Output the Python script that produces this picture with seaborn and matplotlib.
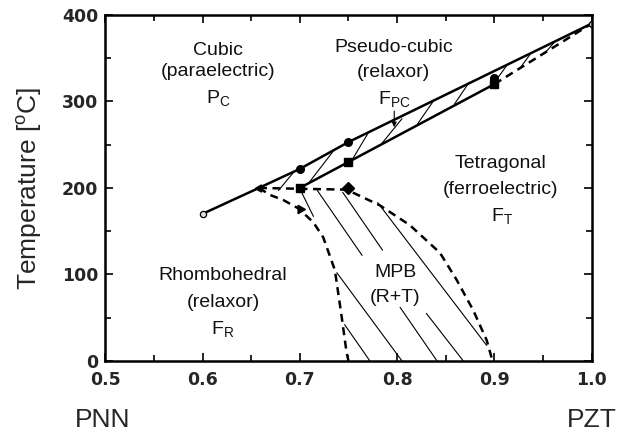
import matplotlib
matplotlib.use("Agg")
import matplotlib.pyplot as plt
import numpy as np
import pandas as pd
import seaborn as sns

# boundary lines (x = PZT fraction, y = temperature in C)
upper_x = [0.6, 0.658, 0.7, 0.75, 1.0]
upper_y = [170, 200, 222, 253, 390]
lower_x = [0.7, 0.75, 0.9]
lower_y = [200, 230, 320]
tail_x = [0.9, 1.0]
tail_y = [320, 390]
mpb_top_x = [0.658, 0.70, 0.748, 0.782, 0.813, 0.844, 0.861, 0.878, 0.892, 0.898]
mpb_top_y = [200, 199, 198, 180, 157, 125, 94, 59, 24, 0]
mpb_left_x = [0.658, 0.669, 0.683, 0.699, 0.714, 0.724, 0.736, 0.743, 0.748, 0.750]
mpb_left_y = [200, 192, 186, 176, 160, 143, 105, 51, 10, 0]

# measured points
circle_x = [0.7, 0.75, 0.9]
circle_y = [222, 253, 327]
square_x = [0.7, 0.75, 0.9]
square_y = [200, 230, 320]
open_x = [0.6, 1.0]
open_y = [170, 390]
diamond_x = [0.75]
diamond_y = [200]

# hatch segments: (x0, y0, x1, y1)
pc_hatch = [(0.678, 197, 0.695, 220), (0.710, 207, 0.734, 242), (0.754, 233, 0.770, 263),
            (0.784, 251, 0.805, 280), (0.821, 274, 0.837, 300), (0.859, 297, 0.874, 322),
            (0.900, 322, 0.913, 342), (0.926, 338, 0.937, 355), (0.952, 356, 0.962, 369)]
mpb_hatch = [(0.700, 199, 0.714, 167), (0.718, 197, 0.764, 122), (0.744, 195, 0.785, 128),
             (0.780, 183, 0.892, 18), (0.738, 102, 0.805, 0), (0.746, 42, 0.772, 0),
             (0.803, 62, 0.841, 0), (0.830, 55, 0.868, 0)]

xticks = [0.5, 0.6, 0.7, 0.8, 0.9, 1.0]
yticks = [0, 100, 200, 300, 400]

sns.set_theme(style="ticks")
plt.rcParams['font.family'] = ['Liberation Sans', 'DejaVu Sans']
plt.rcParams['mathtext.fontset'] = 'custom'
plt.rcParams['mathtext.rm'] = 'Liberation Sans'

fig = plt.figure(figsize=(6.19, 4.37), dpi=100)
ax = fig.add_axes([0.170, 0.174, 0.786, 0.792])

# hatching as one long-form table
rows = []
for i, (x0, y0, x1, y1) in enumerate(pc_hatch + mpb_hatch):
    rows.append({'seg': i, 'x': x0, 'y': y0})
    rows.append({'seg': i, 'x': x1, 'y': y1})
hatch = pd.DataFrame(rows)
sns.lineplot(data=hatch, x='x', y='y', units='seg', estimator=None, sort=False,
             color='black', lw=0.8, ax=ax)

solid = dict(color='black', lw=1.8, sort=False, estimator=None, ax=ax)
sns.lineplot(x=upper_x, y=upper_y, **solid)
sns.lineplot(x=lower_x, y=lower_y, **solid)

dashed = dict(color='black', lw=1.8, sort=False, estimator=None, ax=ax, linestyle=(0, (3.2, 2.2)))
sns.lineplot(x=tail_x, y=tail_y, **dashed)
sns.lineplot(x=mpb_top_x, y=mpb_top_y, **dashed)
sns.lineplot(x=mpb_left_x, y=mpb_left_y, **dashed)

ax.plot(circle_x, circle_y, 'o', color='black', ms=5.5)
ax.plot(square_x, square_y, 's', color='black', ms=5.5)
ax.plot(diamond_x, diamond_y, 'D', color='black', ms=6.5)
ax.plot(open_x, open_y, 'o', mfc='#dddddd', mec='black', mew=0.9, ms=4.5)
ax.plot([0.658], [200], marker=(3, 0, 90), color='black', ms=6)
ax.plot([0.7], [176], marker=(3, 0, 150), color='black', ms=7)

ax.annotate('', xy=(0.797, 267), xytext=(0.797, 292),
            arrowprops=dict(arrowstyle='-|>', color='black', lw=0.8, mutation_scale=7))

labels = [
    (0.616, 359, 'Cubic'), (0.616, 334, '(paraelectric)'), (0.616, 303, 'P$_\\mathregular{C}$'),
    (0.796, 362, 'Pseudo-cubic'), (0.796, 333, '(relaxor)'), (0.797, 302, 'F$_\\mathregular{PC}$'),
    (0.906, 228, 'Tetragonal'), (0.906, 198, '(ferroelectric)'), (0.908, 166, 'F$_\\mathregular{T}$'),
    (0.621, 99, 'Rhombohedral'), (0.621, 68, '(relaxor)'), (0.621, 36, 'F$_\\mathregular{R}$'),
    (0.798, 102, 'MPB'), (0.798, 73, '(R+T)'),
]
for x, y, t in labels:
    ax.text(x, y, t, ha='center', va='center', fontsize=14, color='#111111')

ax.set_xlim(0.5, 1.0)
ax.set_ylim(0, 400)
ax.set_xticks(xticks)
ax.set_yticks(yticks)
ax.set_xticklabels([f'{v:.1f}' for v in xticks], family='DejaVu Sans', fontweight='bold', fontsize=12.5)
ax.set_yticklabels([str(v) for v in yticks], family='DejaVu Sans', fontweight='bold', fontsize=12.5)
ax.set_xticks(np.arange(0.55, 1.0, 0.1), minor=True)
ax.set_yticks(np.arange(50, 400, 100), minor=True)
ax.tick_params(which='both', direction='in', top=True, right=True, width=1.2, color='black')
ax.tick_params(axis='x', which='major', pad=7)
ax.tick_params(axis='y', which='major', pad=5)
ax.tick_params(which='major', length=6)
ax.tick_params(which='minor', length=4)
for s in ax.spines.values():
    s.set_linewidth(1.8)
    s.set_color('black')

ax.set_xlabel('')
ax.set_ylabel('Temperature [$^\\mathregular{o}$C]', fontsize=19, labelpad=13)

trans = matplotlib.transforms.blended_transform_factory(ax.transData, ax.transAxes)
ax.text(0.497, -0.17, 'PNN', transform=trans, ha='center', va='center', fontsize=19)
ax.text(1.0, -0.17, 'PZT', transform=trans, ha='center', va='center', fontsize=19)

fig.savefig('out.png', dpi=100)
